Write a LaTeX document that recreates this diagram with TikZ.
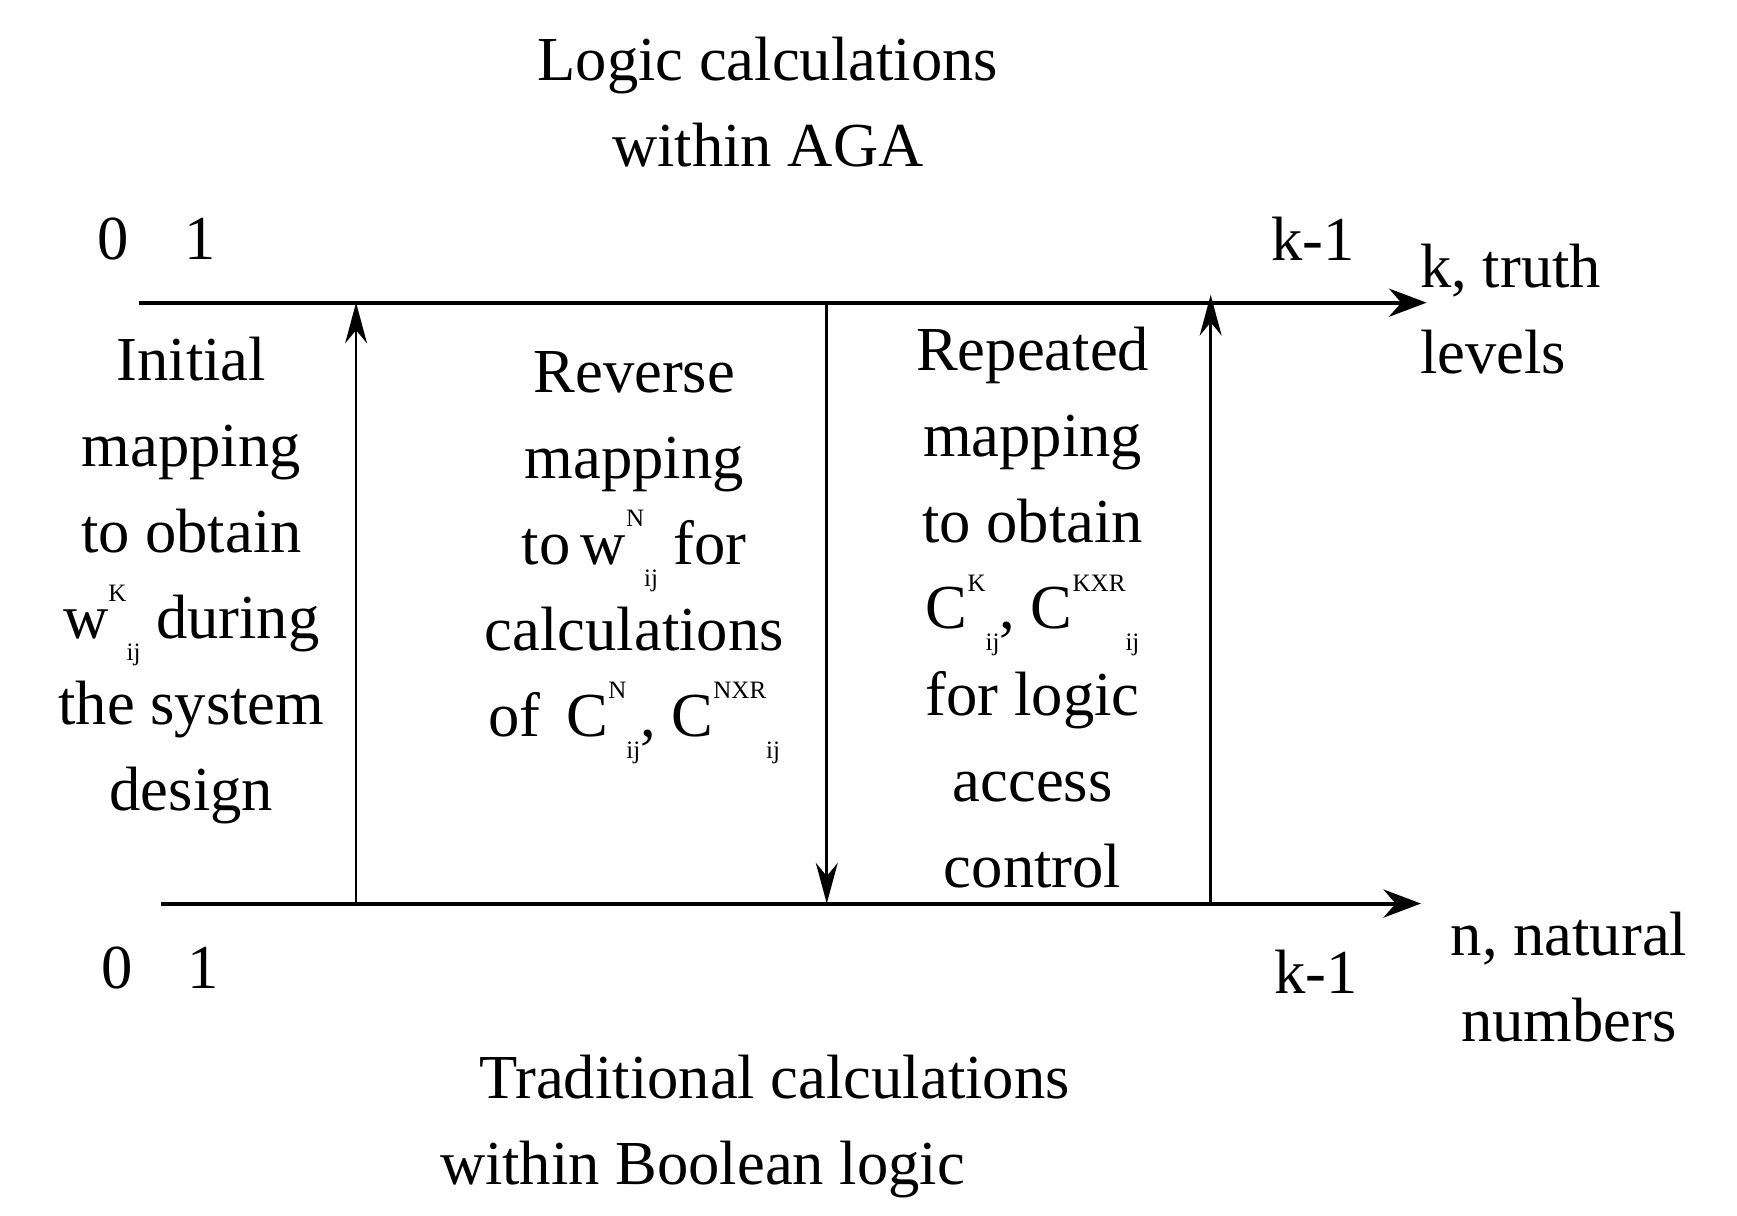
\documentclass[tikz,border=0pt]{standalone}
\usepackage{fontspec}
\setmainfont{Liberation Serif}
\newcommand\su[2]{\raisebox{0.6em}{\fontsize{16pt}{16pt}\selectfont #1}\raisebox{-0.35em}{\fontsize{16pt}{16pt}\selectfont #2}}
\tikzset{
  txt/.style={font=\fontsize{40pt}{55pt}\selectfont, inner sep=0pt, align=center},
  ax/.style={line width=2.6pt,-{Stealth[length=24pt,width=18pt]}},
  mp/.style={line width=1.8pt,-{Stealth[length=26pt,width=14pt]}}
}
\usetikzlibrary{arrows.meta}
\begin{document}
\begin{tikzpicture}[x=0.025cm,y=-0.025cm]
\useasboundingbox (0,0) rectangle (1561,1092);
\coordinate (t0) at (125,272); \coordinate (t1) at (1282,272);
\coordinate (b0) at (145,812); \coordinate (b1) at (1277,812);
\draw[ax] (t0) -- (t1);
\draw[ax] (b0) -- (b1);
\coordinate (a1b) at (320,812); \coordinate (a1t) at (320,272);
\coordinate (a2t) at (743,272); \coordinate (a2b) at (743,812);
\coordinate (a3b) at (1088,812); \coordinate (a3t) at (1088,265);
\draw[mp] (a1b) -- (a1t);
\draw[mp] (a2t) -- (a2b);
\draw[mp] (a3b) -- (a3t);
\node[txt] (top) at (690,92) {Logic calculations\\within AGA};
\node[txt] (bot) at (696,1012) {Traditional calculations\\\hspace*{-2.3em}within Boolean logic};
\node[txt] (t0l) at (102,215) {0};
\node[txt] (t1l) at (180,215) {1};
\node[txt] (tkl) at (1180,215) {k-1};
\node[txt,align=left,anchor=west] (tk) at (1276,278) {k, truth\\levels};
\node[txt] (b0l) at (105,870) {0};
\node[txt] (b1l) at (183,870) {1};
\node[txt] (bkl) at (1183,873) {k-1};
\node[txt] (bn) at (1410,878) {n, natural\\numbers};
\node[txt] (c1) at (172,522) {Initial\\mapping\\to obtain\\w\su{K}{ij} during\\the system\\design};
\node[txt] (c2) at (570,501) {Reverse\\mapping\\to\,w\su{N}{ij} for\\calculations\\of \,C\su{N}{ij}, C\su{NXR}{ij}};
\node[txt] (c3) at (928,546) {Repeated\\mapping\\to obtain\\C\su{K}{ij}, C\su{KXR}{ij}\\for logic\\access\\control};
\end{tikzpicture}
\end{document}
